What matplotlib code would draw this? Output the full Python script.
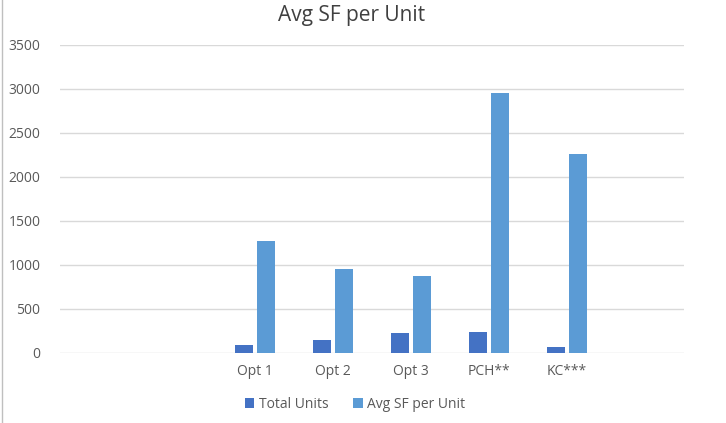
import matplotlib.pyplot as plt
import numpy as np
from matplotlib.lines import Line2D

# data (first two slots and last one are empty categories)
categories = ["", "", "Opt 1", "Opt 2", "Opt 3", "PCH**", "KC***", ""]
total_units = [0, 0, 88, 144, 224, 235, 61, 0]
avg_sf = [0, 0, 1275, 952, 872, 2955, 2260, 0]
yticks = [0, 500, 1000, 1500, 2000, 2500, 3000, 3500]

plt.rcParams['font.family'] = ['Open Sans', 'DejaVu Sans']

fig = plt.figure(figsize=(7.26, 4.23), dpi=100)
ax = fig.add_axes([60 / 726, 70.3 / 423, 624 / 726, 307.7 / 423])

x = np.arange(len(categories))
w = 0.224
gap = 0.064
off = (w + gap) / 2
ax.bar(x - off, total_units, w, color='#4472C4', label='Total Units', zorder=3)
ax.bar(x + off, avg_sf, w, color='#5B9BD5', label='Avg SF per Unit', zorder=3)

ax.set_xlim(-0.5, len(categories) - 0.5)
ax.set_ylim(0, 3500)
ax.set_yticks(yticks)
ax.set_xticks(x)
ax.set_xticklabels(categories)
ax.tick_params(axis='both', length=0, colors='#595959', labelsize=10)
ax.tick_params(axis='y', pad=14)
ax.tick_params(axis='x', pad=8)
ax.grid(axis='y', color='#D9D9D9', linewidth=1, zorder=0)
for s in ax.spines.values():
    s.set_visible(False)

fig.text(352 / 726, 1 - 15 / 423, "Avg SF per Unit", ha='center', va='center',
         fontsize=15, color='#404040')

ax.legend(loc='center', bbox_to_anchor=(355 / 726, 1 - 404 / 423), bbox_transform=fig.transFigure,
          ncol=2, frameon=False, fontsize=10, handlelength=0.7, handleheight=0.7,
          handletextpad=0.3, columnspacing=1.8, labelcolor='#595959')

# thin border left edge of the screenshot
fig.add_artist(Line2D([1.5 / 726, 1.5 / 726], [0, 1], transform=fig.transFigure,
                      color='#BFBFBF', linewidth=1))

fig.savefig('out.png', dpi=100)
